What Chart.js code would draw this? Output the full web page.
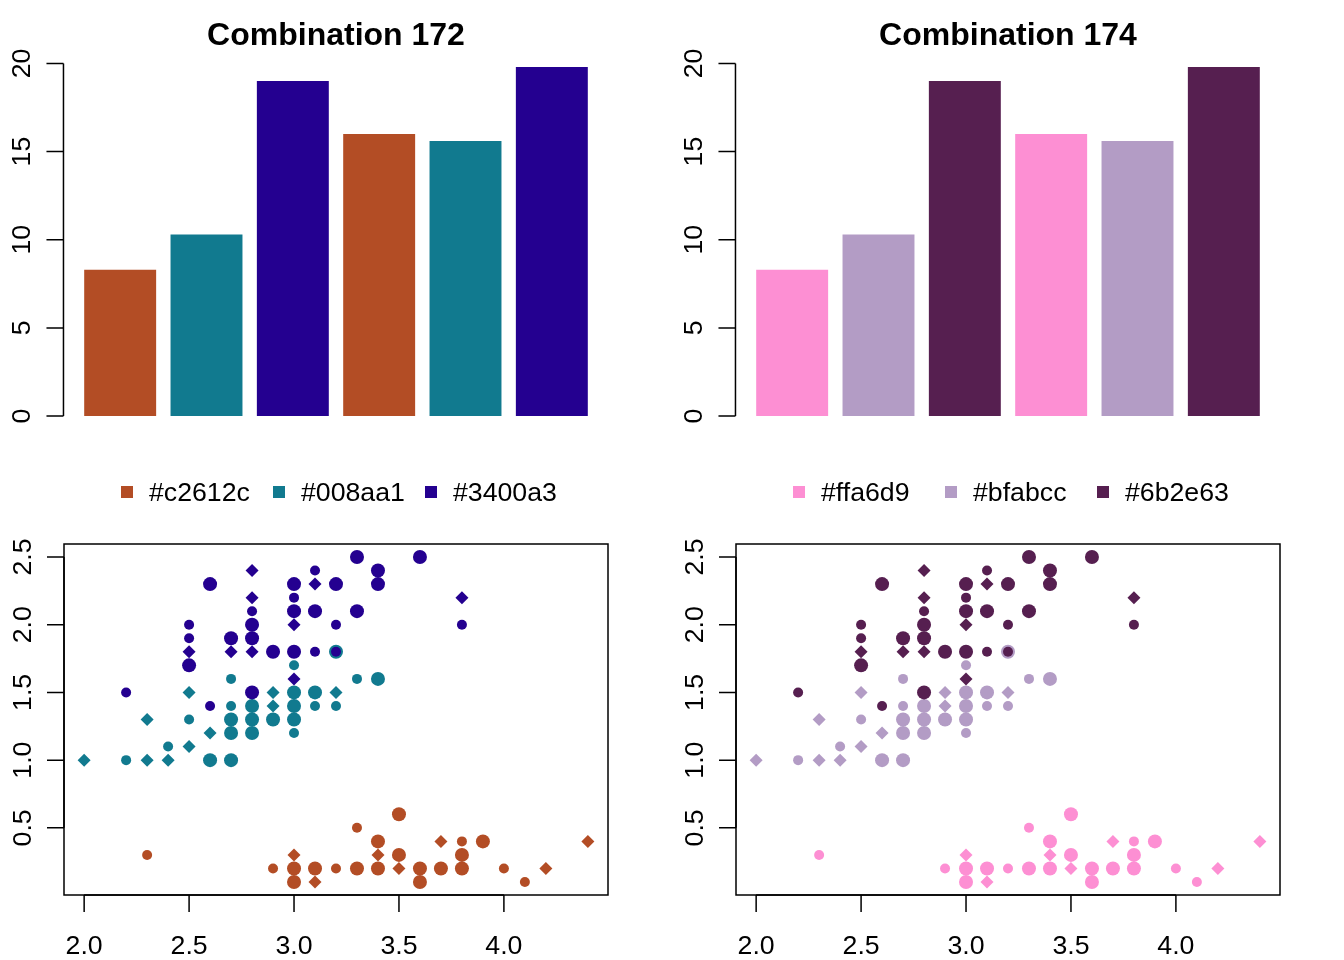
<!DOCTYPE html>
<html>
<head>
<meta charset="utf-8">
<script src="https://cdn.jsdelivr.net/npm/chart.js@4.4.0/dist/chart.umd.min.js"></script>
<style>
  body { margin: 0; background: #fff; width: 1344px; height: 960px; position: relative; overflow: hidden;
         font-family: "Liberation Sans", Arial, sans-serif; }
  canvas { position: absolute; }
  .lg { position: absolute; top: 476px; font-size: 26.7px; line-height: 32px; white-space: nowrap; color: #000; }
  .lg .sq { display: inline-block; width: 12px; height: 12px; margin-right: 16px; vertical-align: 3px; }
</style>
</head>
<body>
<canvas id="bar172" width="672" height="480" style="left:0;top:0"></canvas>
<canvas id="bar174" width="672" height="480" style="left:672px;top:0"></canvas>
<canvas id="sc172" width="672" height="480" style="left:0;top:480px"></canvas>
<canvas id="sc174" width="672" height="480" style="left:672px;top:480px"></canvas>
<div id="legends"></div>
<script>
// bar heights (same for both panels)
const barCategories = ['1', '2', '3', '4', '5', '6'];
const barValues = [8.3, 10.3, 19.0, 16.0, 15.6, 19.8];
const barTicks = [0, 5, 10, 15, 20];

// scatter: sepal width (x) vs petal width (y), marker: s = small dot, b = big dot, d = diamond
const setosaX = [2.3, 2.9, 3.0, 3.0, 3.0, 3.1, 3.1, 3.2, 3.3, 3.3, 3.4, 3.4, 3.4, 3.5, 3.5, 3.5, 3.6, 3.6, 3.7, 3.7, 3.8, 3.8, 3.8, 3.9, 4.0, 4.1, 4.2, 4.4];
const setosaY = [0.3, 0.2, 0.1, 0.2, 0.3, 0.1, 0.2, 0.2, 0.2, 0.5, 0.2, 0.3, 0.4, 0.2, 0.3, 0.6, 0.1, 0.2, 0.2, 0.4, 0.2, 0.3, 0.4, 0.4, 0.2, 0.1, 0.2, 0.4];
const setosaMark = ['s', 's', 'b', 'b', 'd', 'd', 'b', 's', 'b', 's', 'b', 'd', 'b', 'd', 'b', 'b', 'b', 'b', 'b', 'd', 'b', 'b', 's', 'b', 's', 's', 'd', 'd'];

const versicolorX = [2.0, 2.2, 2.3, 2.3, 2.4, 2.4, 2.5, 2.5, 2.5, 2.6, 2.6, 2.7, 2.7, 2.7, 2.7, 2.7, 2.8, 2.8, 2.8, 2.9, 2.9, 2.9, 3.0, 3.0, 3.0, 3.0, 3.0, 3.1, 3.1, 3.2, 3.2, 3.2, 3.3, 3.4];
const versicolorY = [1.0, 1.0, 1.0, 1.3, 1.0, 1.1, 1.1, 1.3, 1.5, 1.0, 1.2, 1.0, 1.2, 1.3, 1.4, 1.6, 1.2, 1.3, 1.4, 1.3, 1.4, 1.5, 1.2, 1.3, 1.4, 1.5, 1.7, 1.4, 1.5, 1.4, 1.5, 1.8, 1.6, 1.6];
const versicolorMark = ['d', 's', 'd', 'd', 'd', 's', 'd', 's', 'd', 'b', 'd', 'b', 'b', 'b', 's', 's', 'b', 'b', 'b', 'b', 'd', 'd', 's', 'b', 'b', 'b', 's', 's', 'b', 's', 'd', 'b', 's', 'b'];

const virginicaX = [2.2, 2.5, 2.5, 2.5, 2.5, 2.6, 2.6, 2.7, 2.7, 2.8, 2.8, 2.8, 2.8, 2.8, 2.8, 2.8, 2.9, 3.0, 3.0, 3.0, 3.0, 3.0, 3.0, 3.1, 3.1, 3.1, 3.1, 3.2, 3.2, 3.2, 3.3, 3.3, 3.4, 3.4, 3.6, 3.8, 3.8];
const virginicaY = [1.5, 1.7, 1.8, 1.9, 2.0, 1.4, 2.3, 1.8, 1.9, 1.5, 1.8, 1.9, 2.0, 2.1, 2.2, 2.4, 1.8, 1.6, 1.8, 2.0, 2.1, 2.2, 2.3, 1.8, 2.1, 2.3, 2.4, 1.8, 2.0, 2.3, 2.1, 2.5, 2.3, 2.4, 2.5, 2.0, 2.2];
const virginicaMark = ['s', 'b', 'd', 's', 's', 's', 'b', 'd', 'b', 'b', 'd', 'b', 'b', 's', 'd', 'd', 'b', 'd', 'b', 'd', 'b', 's', 'b', 's', 'b', 'd', 's', 's', 's', 'b', 'b', 'b', 'b', 'b', 'b', 's', 'd'];

const scXTicks = [2.0, 2.5, 3.0, 3.5, 4.0];
const scYTicks = [0.5, 1.0, 1.5, 2.0, 2.5];

const panels = [
  { id: '172', title: 'Combination 172', names: ['#c2612c', '#008aa1', '#3400a3'], shown: ['#b34d25', '#117a8f', '#240090'] },
  { id: '174', title: 'Combination 174', names: ['#ffa6d9', '#bfabcc', '#6b2e63'], shown: ['#fd8fd3', '#b39cc5', '#561f50'] }
];

const FONT = '"Liberation Sans", Arial, sans-serif';
const markStyle = { s: ['circle', 5], b: ['circle', 7], d: ['rectRot', 6.5] };

// R style axes drawn from the chart's own scales
const rAxes = {
  id: 'rAxes',
  afterDraw(chart, args, o) {
    const { ctx, chartArea: a, scales: { x, y } } = chart;
    ctx.save();
    ctx.strokeStyle = '#000';
    ctx.fillStyle = '#000';
    ctx.lineWidth = 1.5;
    ctx.font = '26.7px ' + FONT;
    const tl = 17;
    let axisX = a.left;
    if (o.kind === 'bar') {
      const slot = x.getPixelForValue(1) - x.getPixelForValue(0);
      axisX = x.getPixelForValue(0) - slot * 0.6567;
      ctx.save();
      ctx.font = 'bold 32px ' + FONT;
      ctx.textAlign = 'center';
      ctx.fillText(o.title, (axisX + x.getPixelForValue(5) + slot * 0.6567) / 2, 45);
      ctx.restore();
    } else {
      ctx.strokeRect(a.left, a.top, a.right - a.left, a.bottom - a.top);
      // x axis
      const x0 = x.getPixelForValue(o.xTicks[0]), x1 = x.getPixelForValue(o.xTicks[o.xTicks.length - 1]);
      ctx.beginPath();
      ctx.moveTo(x0, a.bottom); ctx.lineTo(x1, a.bottom);
      o.xTicks.forEach(v => { const px = x.getPixelForValue(v); ctx.moveTo(px, a.bottom); ctx.lineTo(px, a.bottom + tl); });
      ctx.stroke();
      ctx.textAlign = 'center';
      o.xTicks.forEach(v => ctx.fillText(v.toFixed(1), x.getPixelForValue(v), a.bottom + 59));
    }
    // y axis
    const yt = o.yTicks;
    ctx.beginPath();
    ctx.moveTo(axisX, y.getPixelForValue(yt[0])); ctx.lineTo(axisX, y.getPixelForValue(yt[yt.length - 1]));
    yt.forEach(v => { const py = y.getPixelForValue(v); ctx.moveTo(axisX, py); ctx.lineTo(axisX - tl, py); });
    ctx.stroke();
    ctx.textAlign = 'center';
    yt.forEach(v => {
      ctx.save();
      ctx.translate(axisX - 33, y.getPixelForValue(v));
      ctx.rotate(-Math.PI / 2);
      ctx.fillText(o.kind === 'bar' ? String(v) : v.toFixed(1), 0, 0);
      ctx.restore();
    });
    ctx.restore();
  }
};

function points(xs, ys) { return xs.map((v, i) => ({ x: v, y: ys[i] })); }

panels.forEach(p => {
  new Chart(document.getElementById('bar' + p.id), {
    type: 'bar',
    data: {
      labels: barCategories,
      datasets: [{
        data: barValues,
        backgroundColor: barValues.map((v, i) => p.shown[i % 3]),
        borderWidth: 0,
        barPercentage: 1 / 1.2,
        categoryPercentage: 1
      }]
    },
    options: {
      responsive: false, animation: false,
      layout: { padding: { left: 77, right: 77, top: 53, bottom: 50 } },
      scales: {
        x: { display: false, offset: true },
        y: { display: false, min: -0.792, max: 20.592 }
      },
      plugins: { legend: { display: false }, tooltip: { enabled: false },
                 rAxes: { kind: 'bar', title: p.title, yTicks: barTicks } }
    },
    plugins: [rAxes]
  });

  const groups = [[setosaX, setosaY, setosaMark], [versicolorX, versicolorY, versicolorMark], [virginicaX, virginicaY, virginicaMark]];
  new Chart(document.getElementById('sc' + p.id), {
    type: 'scatter',
    data: {
      datasets: groups.map((g, k) => ({
        data: points(g[0], g[1]),
        order: 2 - k,
        pointStyle: g[2].map(m => markStyle[m][0]),
        pointRadius: g[2].map(m => markStyle[m][1]),
        backgroundColor: p.shown[k],
        borderColor: p.shown[k],
        borderWidth: 0
      }))
    },
    options: {
      responsive: false, animation: false,
      layout: { padding: { left: 64, right: 64, top: 64, bottom: 65 } },
      scales: {
        x: { type: 'linear', display: false, min: 1.904, max: 4.496 },
        y: { type: 'linear', display: false, min: 0.004, max: 2.596 }
      },
      plugins: { legend: { display: false }, tooltip: { enabled: false },
                 rAxes: { kind: 'scatter', xTicks: scXTicks, yTicks: scYTicks } }
    },
    plugins: [rAxes]
  });
});

// legends under the bar charts
const lgBox = document.getElementById('legends');
panels.forEach((p, j) => {
  p.names.forEach((n, k) => {
    const d = document.createElement('div');
    d.className = 'lg';
    d.style.left = (121 + 672 * j + 152 * k) + 'px';
    d.innerHTML = '<span class="sq" style="background:' + p.shown[k] + '"></span>' + n;
    lgBox.appendChild(d);
  });
});
</script>
</body>
</html>
